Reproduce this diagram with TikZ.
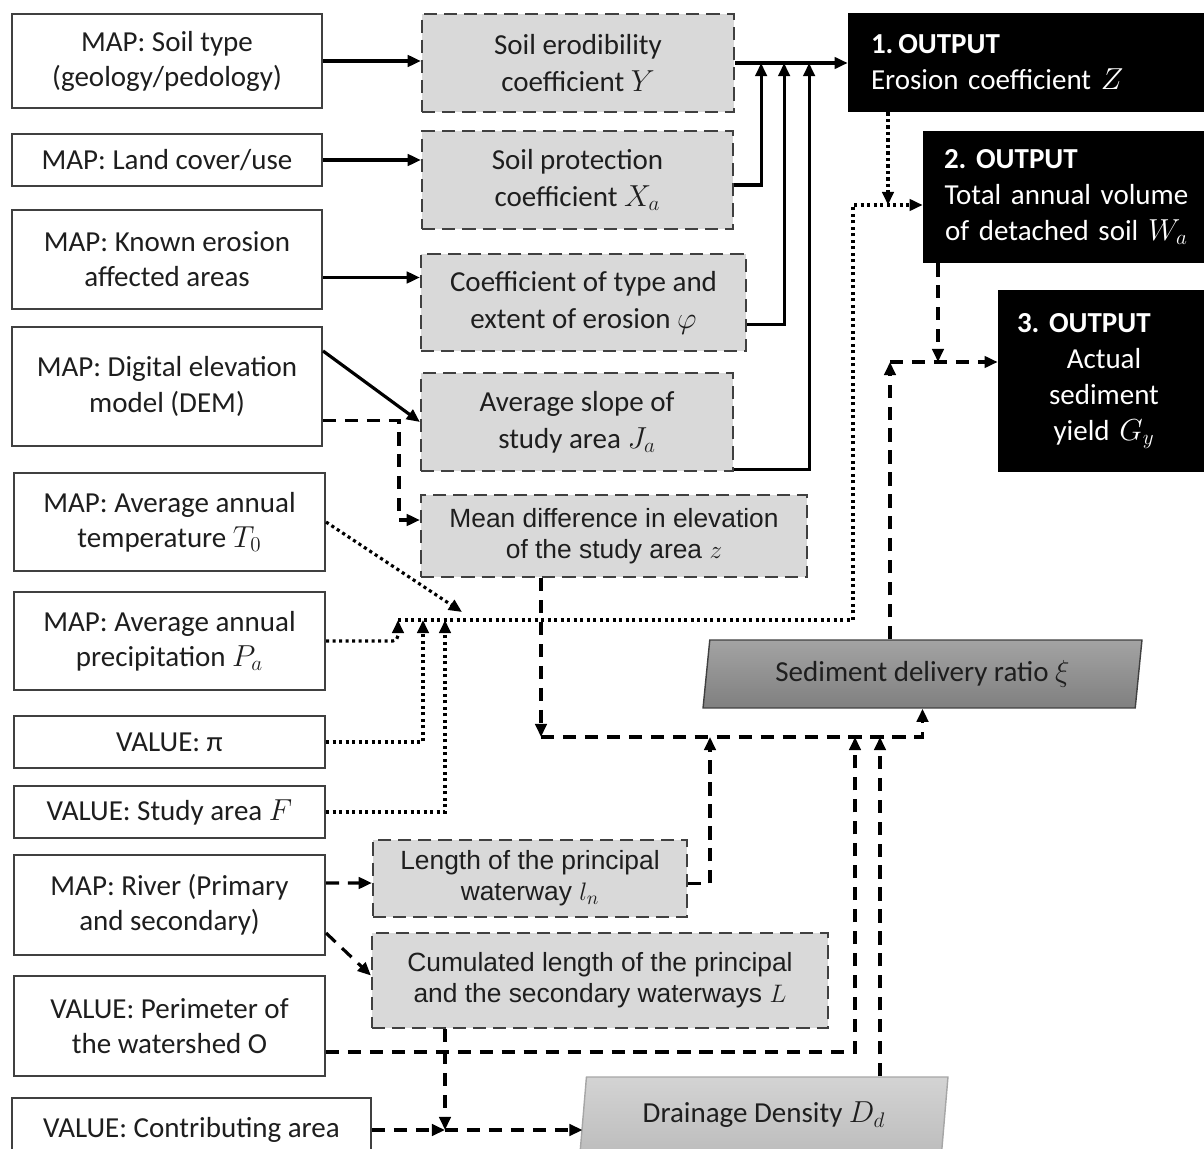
\documentclass[tikz,border=0pt]{standalone}
\usepackage{fontspec}
\setmainfont{Carlito}
\newfontfamily\arialfont{Liberation Sans}
\usepackage{tikz}
\usetikzlibrary{arrows.meta}
\usetikzlibrary{calc}
\usetikzlibrary{shapes.geometric}
\definecolor{boxgray}{RGB}{217,217,217}
\definecolor{edgegray}{RGB}{64,64,64}
\definecolor{inktext}{RGB}{30,30,30}
\tikzset{inbox/.style={rectangle,draw=edgegray,line width=1.2pt,fill=white,text=inktext,align=center,inner sep=0pt,font=\fontsize{16.5}{20}\selectfont}}
\tikzset{coef/.style={rectangle,draw=edgegray,line width=1.3pt,dash pattern=on 7.5pt off 4pt,fill=boxgray,text=inktext,align=center,inner sep=0pt,font=\fontsize{16.5}{21}\selectfont}}
\tikzset{coefarial/.style={coef,font=\arialfont\fontsize{15}{17.5}\selectfont}}
\tikzset{outbox/.style={rectangle,fill=black,text=white,inner sep=0pt,font=\fontsize{16.5}{20.5}\selectfont}}
\tikzset{ratio/.style={trapezium,trapezium left angle=76,trapezium right angle=104,trapezium stretches body,line width=0.8pt,text=inktext,inner sep=0pt,font=\fontsize{16.5}{20}\selectfont}}
\tikzset{line/.style={black,line width=1.8pt,-{Triangle[length=7.5pt,width=6.5pt]}}}
\tikzset{dashline/.style={line,dash pattern=on 7.5pt off 5pt}}
\tikzset{dotline/.style={line,dash pattern=on 1.8pt off 1.9pt}}

\begin{document}
\begin{tikzpicture}[x=0.02cm,y=-0.02cm]
  \useasboundingbox (0,0) rectangle (1204,1149);
  \clip (0,0) rectangle (1204,1149);

  % Input maps and values
  \node[inbox,minimum width=6.2cm,minimum height=1.88cm] (soil) at (167,61) {MAP: Soil type\\(geology/pedology)};
  \node[inbox,minimum width=6.2cm,minimum height=1.04cm] (land) at (167,160) {MAP: Land cover/use};
  \node[inbox,minimum width=6.2cm,minimum height=1.98cm] (known) at (167,259.5) {MAP: Known erosion\\affected areas};
  \node[inbox,minimum width=6.2cm,minimum height=2.38cm] (dem) at (167,386.5) {MAP: Digital elevation\\model (DEM)};
  \node[inbox,minimum width=6.22cm,minimum height=1.96cm] (temp) at (169.5,522) {MAP: Average annual\\temperature $T_0$};
  \node[inbox,minimum width=6.22cm,minimum height=1.96cm] (precip) at (169.5,641) {MAP: Average annual\\precipitation $P_a$};
  \node[inbox,minimum width=6.22cm,minimum height=1.04cm] (pival) at (169.5,742) {VALUE: π};
  \node[inbox,minimum width=6.22cm,minimum height=1.04cm] (area) at (169.5,812) {VALUE: Study area $F$};
  \node[inbox,minimum width=6.22cm,minimum height=2cm] (river) at (169.5,905) {MAP: River (Primary\\and secondary)};
  \node[inbox,minimum width=6.22cm,minimum height=2cm] (perim) at (169.5,1026) {VALUE: Perimeter of\\the watershed O};
  \node[inbox,minimum width=7.18cm,minimum height=1.28cm] (contrib) at (191.5,1130) {VALUE: Contributing area};

  % Coefficients
  \node[coef,minimum width=6.24cm,minimum height=1.96cm] (yco) at (578,63) {Soil erodibility\\coefficient $Y$};
  \node[coef,minimum width=6.22cm,minimum height=1.96cm] (xco) at (577.5,180) {Soil protection\\coefficient $X_a$};
  \node[coef,minimum width=6.5cm,minimum height=1.94cm] (phico) at (583.5,302.5) {Coefficient of type and\\extent of erosion $\varphi$};
  \node[coef,minimum width=6.24cm,minimum height=1.96cm] (jco) at (577,422) {Average slope of\\study area $J_a$};
  \node[coefarial,minimum width=7.72cm,minimum height=1.64cm] (zco) at (614,536) {Mean difference in elevation\\of the study area $z$};
  \node[coefarial,minimum width=6.28cm,minimum height=1.54cm] (lnco) at (530,878.5) {Length of the principal\\waterway $l_n$};
  \node[coefarial,minimum width=9.12cm,minimum height=1.9cm] (Lco) at (600,980.5) {Cumulated length of the principal\\and the secondary waterways $L$};

  % Ratios
  \node[ratio,draw=edgegray,top color=black!36,bottom color=black!50,minimum width=8.78cm,minimum height=1.36cm] (sdr) at (922.5,674) {Sediment delivery ratio $\xi$};
  \node[ratio,draw=black!35,top color=black!17,bottom color=black!26,minimum width=7.36cm,minimum height=1.52cm] (dd) at (764,1115) {Drainage Density $D_d$};

  % Outputs
  \node[outbox,minimum width=7.24cm,minimum height=1.98cm,text width=6.32cm,align=left] (out1) at (1029,62.5) {\textbf{1.\,OUTPUT}\\Erosion coefficient $Z$};
  \node[outbox,minimum width=5.74cm,minimum height=2.64cm,text width=4.9cm,align=center] (out2) at (1066.5,197) {\makebox[\linewidth][l]{\textbf{2.\ OUTPUT}}\\Total annual volume\\of detached soil $W_a$};
  \node[outbox,minimum width=4.24cm,minimum height=3.64cm,text width=3.48cm,align=center] (out3) at (1104,381) {\makebox[\linewidth][l]{\textbf{3.\ OUTPUT}}\\Actual\\sediment\\yield $G_y$};

  % Junctions
  \coordinate (tx) at ($(yco.east)+(26,0)$);
  \coordinate (tphi) at ($(yco.east)+(49,0)$);
  \coordinate (tj) at ($(yco.east)+(74,0)$);
  \coordinate (wa) at (888,205);
  \coordinate (pbus) at (398,620);
  \coordinate (pibus) at (423,620);
  \coordinate (fbus) at (445,620);
  \coordinate (pq) at (853,620);
  \coordinate (tin) at (462,612);
  \coordinate (zb) at (541,737);
  \coordinate (lb) at (710,737);
  \coordinate (pb) at (855,737);
  \coordinate (db) at (880,737);
  \coordinate (gb) at (890,362);
  \coordinate (gc) at (938,362);
  \coordinate (cb) at (445,1130);

  % Solid links
  \draw[line] (soil.east) -- (soil.east -| yco.west);
  \draw[line] (land.east) -- (land.east -| xco.west);
  \draw[line] ($(known.east)+(0,18)$) -- ($(phico.west)+(0,-25)$);
  \draw[line] ($(dem.north east)+(0,25)$) -- (jco.west);
  \draw[line] (yco.east) -- (yco.east -| out1.west);
  \draw[line] ($(xco.east)+(0,5)$) -| (tx);
  \draw[line] ($(phico.east)+(0,22)$) -| (tphi);
  \draw[line] ($(jco.south east)+(0,-3)$) -| (tj);

  % Dotted links
  \draw[dotline] (wa |- out1.south) -- (wa);
  \draw[dotline] (pbus) -- (pq) |- ($(out2.west)+(0,8)$);
  \draw[dotline] (temp.east) -- (tin);
  \draw[dotline,rounded corners=3pt] (precip.east) -| (pbus);
  \draw[dotline] (pival.east) -| (pibus);
  \draw[dotline] (area.east) -| (fbus);

  % Dashed links
  \draw[dashline] ($(dem.east)+(0,34)$) -- ++(76,0) |- ($(zco.west)+(0,-16)$);
  \draw[dashline] (zb |- zco.south) -- (zb);
  \draw[dashline] (zb) -| (sdr.south);
  \draw[dashline] ($(lnco.east)+(0,5)$) -| (lb);
  \draw[dashline] ($(perim.east)+(0,26)$) -| (pb);
  \draw[dashline] (db |- dd.north) -- (db);
  \draw[dashline] (gb |- sdr.north) -- (gb);
  \draw[dashline] (gb) -- (gb -| out3.west);
  \draw[dashline] (gc |- out2.south) -- (gc);
  \draw[dashline] ($(river.east)+(0,-22)$) -- ($(lnco.west)+(0,4.5)$);
  \draw[dashline] ($(river.east)+(0,28)$) -- ($(Lco.west)+(0,-5)$);
  \draw[dashline] (cb |- Lco.south) -- (cb);
  \draw[dashline] (contrib.east) -- (cb);
  \draw[dashline] (cb) -- (cb -| dd.west);
\end{tikzpicture}
\end{document}
